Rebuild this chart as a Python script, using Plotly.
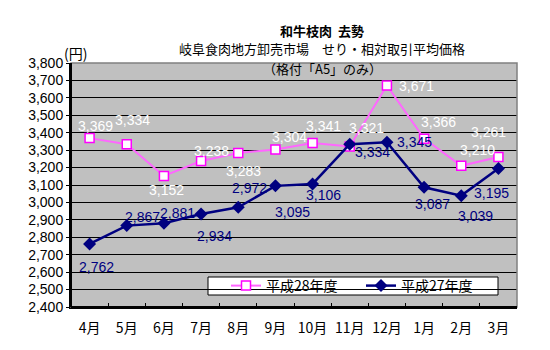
import plotly.graph_objects as go

months = ["4月", "5月", "6月", "7月", "8月", "9月", "10月", "11月", "12月", "1月", "2月", "3月"]
h28 = [3369, 3334, 3152, 3238, 3283, 3304, 3341, 3321, 3671, 3366, 3210, 3261]
h27 = [2762, 2867, 2881, 2934, 2972, 3095, 3106, 3334, 3345, 3087, 3039, 3195]
name28 = "平成28年度"
name27 = "平成27年度"

# label offsets (pixels) for data labels
off28 = [(6, 12), (6, 24), (3, -14), (10, 10), (5, -18), (14, 12), (11, 17), (17, 18), (30, -1), (14, 17), (16, 16), (-10, 25)]
off27 = [(7, -23), (16, 9), (14, 10), (13, -22), (11, 19), (17, -26), (11, -11), (23, -8), (28, 0), (8, -17), (14, -20), (-7, -25)]

JP = "Noto Sans CJK JP"
NUM = "Liberation Sans, Arial"

fig = go.Figure()
fig.add_trace(go.Scatter(
    x=months, y=h28, name=name28, mode="lines+markers",
    line=dict(color="#FF66FF", width=2),
    marker=dict(symbol="square", size=9, color="white", line=dict(color="#FF00FF", width=1.5)),
))
fig.add_trace(go.Scatter(
    x=months, y=h27, name=name27, mode="lines+markers",
    line=dict(color="#000080", width=2.5),
    marker=dict(symbol="diamond", size=10, color="#000080"),
))

ann = []
for m, v, (dx, dy) in zip(months, h28, off28):
    ann.append(dict(x=m, y=v, text=f"{v:,}", showarrow=False, xshift=dx, yshift=dy,
                    font=dict(family=NUM, size=14, color="white")))
for m, v, (dx, dy) in zip(months, h27, off27):
    ann.append(dict(x=m, y=v, text=f"{v:,}", showarrow=False, xshift=dx, yshift=dy,
                    font=dict(family=NUM, size=14, color="#000080")))

TX = (322 - 71) / 446
ann.append(dict(xref="paper", yref="paper", x=TX, y=1.0, yshift=33, yanchor="middle", xanchor="center",
                text="<b>和牛枝肉  去勢</b>",
                showarrow=False, font=dict(family=JP, size=13, color="black")))
ann.append(dict(xref="paper", yref="paper", x=TX, y=1.0, yshift=15, yanchor="middle", xanchor="center",
                text="岐阜食肉地方卸売市場　せり・相対取引平均価格",
                showarrow=False, font=dict(family=JP, size=13, color="black")))
ann.append(dict(xref="paper", yref="paper", x=TX, y=1.0, yshift=-5, yanchor="middle", xanchor="center",
                text="（格付「A5」のみ）",
                showarrow=False, font=dict(family=JP, size=13, color="black")))
ann.append(dict(xref="paper", yref="paper", x=0, y=1.0, xshift=4, yshift=10, yanchor="middle", xanchor="center",
                text="(円)",
                showarrow=False, font=dict(family=JP, size=14, color="black")))

fig.update_layout(
    width=550, height=350,
    margin=dict(l=71, r=33, t=63, b=43),
    paper_bgcolor="white", plot_bgcolor="#C0C0C0",
    showlegend=True,
    legend=dict(orientation="h", x=(226 - 71) / 446, y=(307 - 286) / 244,
                xanchor="left", yanchor="middle",
                bgcolor="rgba(0,0,0,0)", borderwidth=0,
                font=dict(family=JP, size=14, color="black"),
                itemwidth=30, entrywidth=90, tracegroupgap=0),
    annotations=ann,
    shapes=[dict(type="rect", xref="paper", yref="paper", x0=0, x1=1, y0=0, y1=1,
                 line=dict(color="#808080", width=1.5), layer="above"),
            dict(type="line", xref="paper", yref="paper", x0=0, x1=0, y0=0, y1=1,
                 line=dict(color="black", width=2), layer="above"),
            dict(type="line", xref="paper", yref="paper", x0=0, x1=1, y0=0, y1=0,
                 line=dict(color="black", width=2), layer="above"),
            dict(type="rect", xref="paper", yref="paper",
                 x0=(208 - 71) / 446, x1=(498 - 71) / 446,
                 y0=(307 - 295) / 244, y1=(307 - 277) / 244,
                 fillcolor="white", line=dict(color="black", width=1), layer="below")],
)
fig.update_xaxes(type="category", range=[-0.5, 11.5], tickson="boundaries",
                 ticks="inside", ticklen=4, tickcolor="black", showgrid=False,
                 showline=True, linecolor="black", linewidth=2, tickangle=0, automargin=False,
                 tickfont=dict(family=JP, size=14, color="black"), ticklabelstandoff=7)
fig.update_yaxes(range=[2400, 3800], dtick=100, tickformat=",", showgrid=True,
                 gridcolor="black", gridwidth=1, showline=True, linecolor="black", linewidth=2,
                 ticks="outside", ticklen=3, tickcolor="black", zeroline=False, automargin=False,
                 tickfont=dict(family=NUM, size=14, color="black"))

fig.write_html("out.html")
